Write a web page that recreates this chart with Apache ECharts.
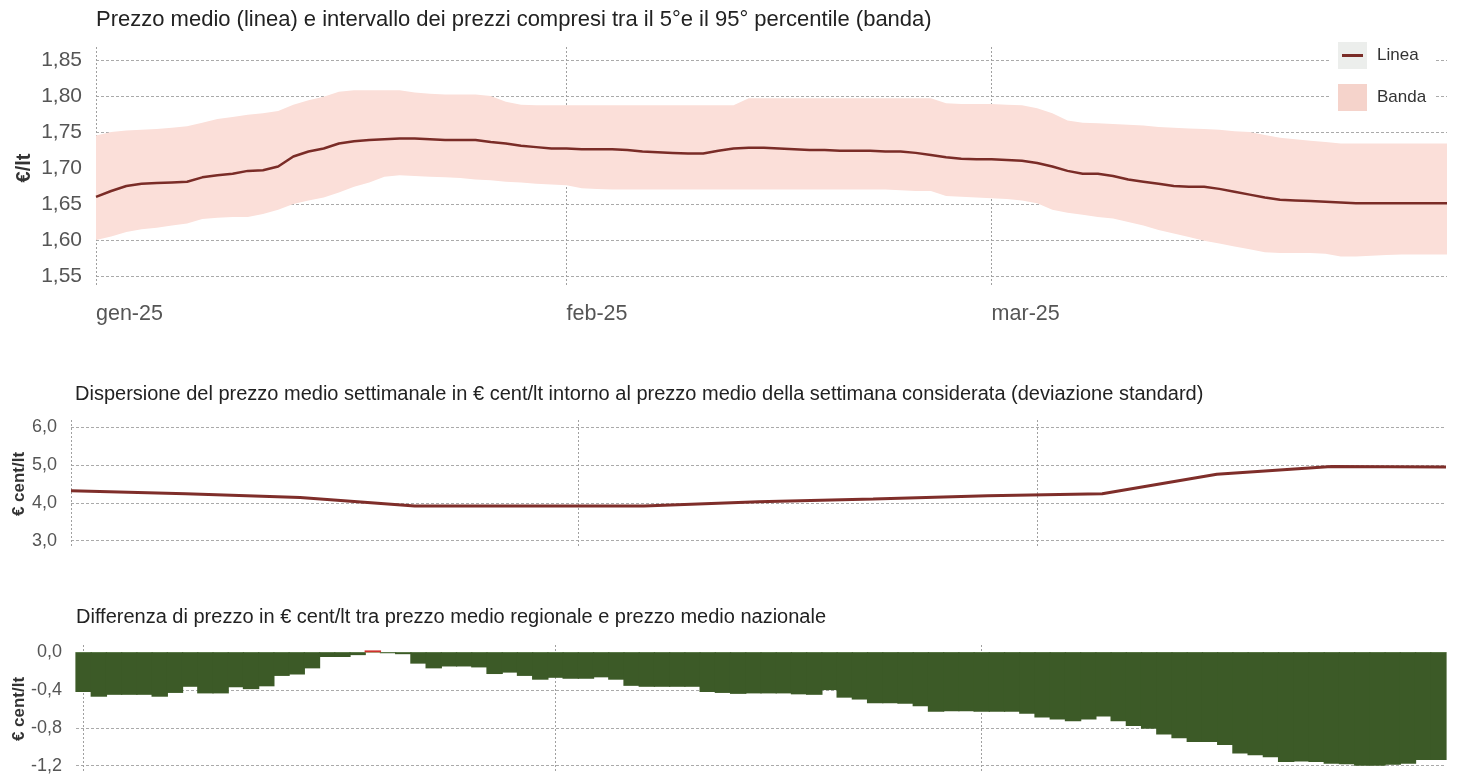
<!DOCTYPE html>
<html><head><meta charset="utf-8">
<script src="https://cdn.jsdelivr.net/npm/echarts@6/dist/echarts.min.js"></script>
<style>html,body{margin:0;padding:0;background:#fff}#c{width:1458px;height:776px}</style>
</head><body><div id="c"></div>
<script>
// ---------- DATA ----------
const mesi = ['gen','feb','mar','apr','mag','giu','lug','ago','set','ott','nov','dic'];
const inizio = '2025-01-01';
const fineTrimestre = '2025-03-31';

// prezzo medio giornaliero (€/lt)
const prezzoMedio = [
 1.660,1.668,1.675,1.678,1.679,1.680,1.681,1.687,1.690,1.692,
 1.696,1.697,1.702,1.716,1.723,1.727,1.734,1.737,1.739,1.740,
 1.741,1.741,1.740,1.739,1.739,1.739,1.736,1.734,1.731,1.729,
 1.727,1.727,1.726,1.726,1.726,1.725,1.723,1.722,1.721,1.720,
 1.720,1.724,1.727,1.728,1.728,1.727,1.726,1.725,1.725,1.724,
 1.724,1.724,1.723,1.723,1.721,1.718,1.715,1.713,1.712,1.712,
 1.711,1.710,1.707,1.702,1.696,1.692,1.692,1.689,1.684,1.681,
 1.678,1.675,1.674,1.674,1.671,1.667,1.663,1.659,1.656,1.655,
 1.654,1.653,1.652,1.651,1.651,1.651,1.651,1.651,1.651,1.651];
// 95° percentile
const percentile95 = [
 1.745,1.750,1.752,1.753,1.754,1.756,1.758,1.763,1.768,1.771,
 1.774,1.776,1.779,1.788,1.794,1.799,1.806,1.808,1.808,1.808,
 1.808,1.805,1.803,1.802,1.802,1.802,1.800,1.792,1.788,1.787,
 1.787,1.787,1.787,1.787,1.787,1.787,1.787,1.787,1.787,1.787,
 1.787,1.787,1.787,1.797,1.797,1.797,1.797,1.797,1.797,1.797,
 1.797,1.797,1.797,1.797,1.797,1.797,1.790,1.789,1.789,1.789,
 1.788,1.787,1.783,1.776,1.766,1.763,1.762,1.761,1.760,1.759,
 1.757,1.756,1.755,1.754,1.753,1.751,1.750,1.746,1.742,1.740,
 1.738,1.736,1.734,1.734,1.734,1.734,1.734,1.734,1.734,1.734];
// 5° percentile
const percentile5 = [
 1.600,1.605,1.611,1.615,1.617,1.620,1.623,1.629,1.631,1.632,
 1.632,1.636,1.642,1.650,1.655,1.659,1.666,1.674,1.680,1.688,
 1.690,1.689,1.688,1.687,1.686,1.684,1.683,1.681,1.680,1.678,
 1.677,1.676,1.672,1.671,1.670,1.670,1.670,1.670,1.670,1.670,
 1.670,1.670,1.670,1.670,1.670,1.670,1.670,1.670,1.670,1.670,
 1.670,1.670,1.670,1.669,1.668,1.668,1.661,1.660,1.659,1.658,
 1.657,1.655,1.651,1.642,1.638,1.635,1.632,1.630,1.625,1.620,
 1.614,1.609,1.604,1.599,1.595,1.591,1.587,1.583,1.582,1.582,
 1.582,1.581,1.577,1.577,1.578,1.579,1.580,1.580,1.580,1.580];

// dispersione settimanale (€ cent/lt)
const settimane = ['2025-01-01','2025-01-08','2025-01-15','2025-01-22','2025-01-29','2025-02-05','2025-02-12',
                   '2025-02-19','2025-02-26','2025-03-05','2025-03-12','2025-03-19','2025-03-26'];
const dispersione = [4.32,4.24,4.14,3.92,3.92,3.92,4.03,4.10,4.19,4.24,4.76,4.96,4.95];

// differenza regionale - nazionale (€ cent/lt)
const differenza = [
 -0.42,-0.47,-0.45,-0.45,-0.45,-0.47,-0.43,-0.365,-0.435,-0.435,
 -0.37,-0.39,-0.36,-0.25,-0.235,-0.17,-0.05,-0.05,-0.03,0.02,
 -0.01,-0.02,-0.12,-0.17,-0.15,-0.15,-0.16,-0.23,-0.215,-0.25,
 -0.29,-0.27,-0.28,-0.28,-0.265,-0.29,-0.355,-0.365,-0.365,-0.365,
 -0.365,-0.42,-0.43,-0.44,-0.435,-0.435,-0.435,-0.445,-0.45,-0.40,
 -0.48,-0.50,-0.54,-0.54,-0.545,-0.57,-0.63,-0.625,-0.625,-0.63,
 -0.63,-0.63,-0.65,-0.69,-0.71,-0.73,-0.71,-0.68,-0.73,-0.78,
 -0.81,-0.87,-0.91,-0.95,-0.95,-0.98,-1.07,-1.09,-1.11,-1.16,
 -1.155,-1.16,-1.18,-1.185,-1.20,-1.20,-1.19,-1.18,-1.14,-1.14];

const titoli = [
 'Prezzo medio (linea) e intervallo dei prezzi compresi tra il 5°e il 95° percentile (banda)',
 'Dispersione del prezzo medio settimanale in € cent/lt intorno al prezzo medio della settimana considerata (deviazione standard)',
 'Differenza di prezzo in € cent/lt tra prezzo medio regionale e prezzo medio nazionale'
];

// ---------- BUILD ----------
const DAY = 86400000;
const t0 = new Date(inizio).getTime();
const tEnd = new Date(fineTrimestre).getTime();
const giorni = prezzoMedio.map((_, i) => t0 + i * DAY);
const tSett = settimane.map(s => new Date(s).getTime());

const FONT = '"Liberation Sans", Arial, sans-serif';
const gridLine = { show: true, lineStyle: { color: '#aaaaaa', type: [3, 2], width: 1 } };
const vLine = (showMin) => ({ show: true, showMinLine: showMin, showMaxLine: false,
  lineStyle: { color: '#a0a0a0', type: [2, 2], width: 1 } });
const monthAxis = { minInterval: 28 * DAY, maxInterval: 31 * DAY };
const fmtMese = v => { const d = new Date(v); return mesi[d.getUTCMonth()] + '-' + String(d.getUTCFullYear()).slice(2); };
const comma = n => v => (Math.abs(v) < 1e-9 ? 0 : v).toFixed(n).replace('.', ',');

const svgIcon = "<svg xmlns='http://www.w3.org/2000/svg' width='29' height='27'><rect width='29' height='27' fill='#eceeec'/><rect x='4' y='12' width='21' height='3' fill='#7a2c27'/></svg>";
const lineaIcon = 'image://data:image/svg+xml;charset=utf-8,' + encodeURIComponent(svgIcon);

const hiddenY = (g) => ({ type: 'value', gridIndex: g, show: false, min: 0, max: 1, splitLine: { show: false } });
const bareX = (g, min, max, split) => Object.assign({
  type: 'time', gridIndex: g, min: min, max: max,
  axisLine: { show: false }, axisTick: { show: false }, axisLabel: { show: false },
  splitLine: split || { show: false }
}, monthAxis);
const titleStyle = fs => ({ fontSize: fs, fontWeight: 'normal', color: '#222', fontFamily: FONT });
const nameStyle = fs => ({ fontSize: fs, fontWeight: 'bold', color: '#333', fontFamily: FONT });
const verde = '#3c5a27', rosso = '#d0312d';
const mkGrid = (left, right, top, height) => ({ left, right, top, height, containLabel: false, outerBoundsMode: 'none' });

const option = {
  useUTC: true,
  animation: false,
  backgroundColor: '#ffffff',
  textStyle: { fontFamily: FONT },
  title: [
    { text: titoli[0], left: 96, top: 9, padding: 0, textStyle: titleStyle(22) },
    { text: titoli[1], left: 75, top: 384, padding: 0, textStyle: titleStyle(20) },
    { text: titoli[2], left: 76, top: 607, padding: 0, textStyle: titleStyle(20) }
  ],
  legend: {
    left: 1330, top: 38, orient: 'vertical', backgroundColor: '#ffffff',
    padding: [4, 8, 4, 8], itemGap: 15, itemWidth: 29, itemHeight: 27, selectedMode: false,
    textStyle: { fontSize: 17, color: '#333', fontFamily: FONT, padding: [0, 0, 0, 5] },
    data: [ { name: 'Linea', icon: lineaIcon }, { name: 'Banda', icon: 'rect', itemStyle: { color: '#f5d3cb' } } ]
  },
  grid: [
    mkGrid(96, 11, 60, 216),
    mkGrid(96, 11, 47, 240),
    mkGrid(71, 12, 427.3, 113.4),
    mkGrid(71, 12, 420, 127),
    mkGrid(76, 12, 652.3, 113.4),
    mkGrid(76, 12, 645, 126)
  ],
  xAxis: [
    Object.assign({
      type: 'time', gridIndex: 0, min: t0, max: tEnd,
      axisLine: { show: false }, axisTick: { show: false }, splitLine: { show: false },
      axisLabel: { align: 'left', formatter: fmtMese, fontSize: 21.5, color: '#555', margin: 27, showMaxLabel: false, fontFamily: FONT }
    }, monthAxis),
    bareX(1, t0, tEnd, vLine(true)),
    bareX(2, t0, tSett[tSett.length - 1]),
    bareX(3, t0, tSett[tSett.length - 1], vLine(true)),
    { type: 'category', gridIndex: 4, data: giorni, boundaryGap: true,
      axisLine: { show: true, onZero: true, lineStyle: { color: '#a9c69b', width: 1 } },
      axisTick: { show: false }, axisLabel: { show: false }, splitLine: { show: false }, splitArea: { show: false } },
    bareX(5, t0 - DAY / 2, tEnd + DAY / 2, vLine(false))
  ],
  yAxis: [
    { type: 'value', gridIndex: 0, min: 1.55, max: 1.85, interval: 0.05,
      axisLine: { show: false }, axisTick: { show: false }, splitLine: gridLine,
      axisLabel: { formatter: comma(2), fontSize: 21, color: '#555', margin: 14, fontFamily: FONT },
      name: '€/lt', nameLocation: 'middle', nameGap: 62, nameMoveOverlap: false, nameTextStyle: nameStyle(20) },
    hiddenY(1),
    { type: 'value', gridIndex: 2, min: 3, max: 6, interval: 1,
      axisLine: { show: false }, axisTick: { show: false }, splitLine: gridLine,
      axisLabel: { formatter: comma(1), fontSize: 18, color: '#555', margin: 14, fontFamily: FONT },
      name: '€ cent/lt', nameLocation: 'middle', nameGap: 43, nameMoveOverlap: false, nameTextStyle: nameStyle(17) },
    hiddenY(3),
    { type: 'value', gridIndex: 4, min: -1.2, max: 0, interval: 0.4,
      axisLine: { show: false }, axisTick: { show: false }, splitLine: gridLine,
      axisLabel: { formatter: comma(1), fontSize: 18, color: '#555', margin: 14, fontFamily: FONT },
      name: '€ cent/lt', nameLocation: 'middle', nameGap: 48, nameMoveOverlap: false, nameTextStyle: nameStyle(17) },
    hiddenY(5)
  ],
  series: [
    { name: 'p5', type: 'line', xAxisIndex: 0, yAxisIndex: 0, stack: 'banda', symbol: 'none', silent: true,
      lineStyle: { opacity: 0 }, data: giorni.map((t, i) => [t, percentile5[i]]) },
    { name: 'Banda', type: 'line', xAxisIndex: 0, yAxisIndex: 0, stack: 'banda', symbol: 'none', silent: true,
      lineStyle: { opacity: 0 }, itemStyle: { color: '#f5d3cb' },
      areaStyle: { color: '#fbdfd9', opacity: 1 },
      data: giorni.map((t, i) => [t, +(percentile95[i] - percentile5[i]).toFixed(3)]) },
    { name: 'Linea', type: 'line', xAxisIndex: 0, yAxisIndex: 0, symbol: 'none', z: 5,
      itemStyle: { color: '#7a2c27' }, lineStyle: { color: '#7a2c27', width: 2.5 },
      data: giorni.map((t, i) => [t, prezzoMedio[i]]) },
    { name: 'Dispersione', type: 'line', xAxisIndex: 2, yAxisIndex: 2, symbol: 'none',
      lineStyle: { color: '#7f2e2a', width: 3 },
      data: tSett.map((t, i) => [t, dispersione[i]]) },
    { name: 'Differenza', type: 'bar', xAxisIndex: 4, yAxisIndex: 4, barCategoryGap: '-8%', barGap: '-100%', clip: false,
      itemStyle: { color: verde, borderWidth: 0 },
      data: differenza.map(v => (v <= 0 ? v : '-')) },
    { name: 'Differenza positiva', type: 'bar', xAxisIndex: 4, yAxisIndex: 4, barCategoryGap: '-8%', barGap: '-100%', clip: false,
      itemStyle: { color: rosso, borderWidth: 0 },
      data: differenza.map(v => (v > 0 ? v : '-')) }
  ]
};

const chart = echarts.init(document.getElementById('c'), null, { renderer: 'canvas' });
chart.setOption(option);
</script></body></html>
